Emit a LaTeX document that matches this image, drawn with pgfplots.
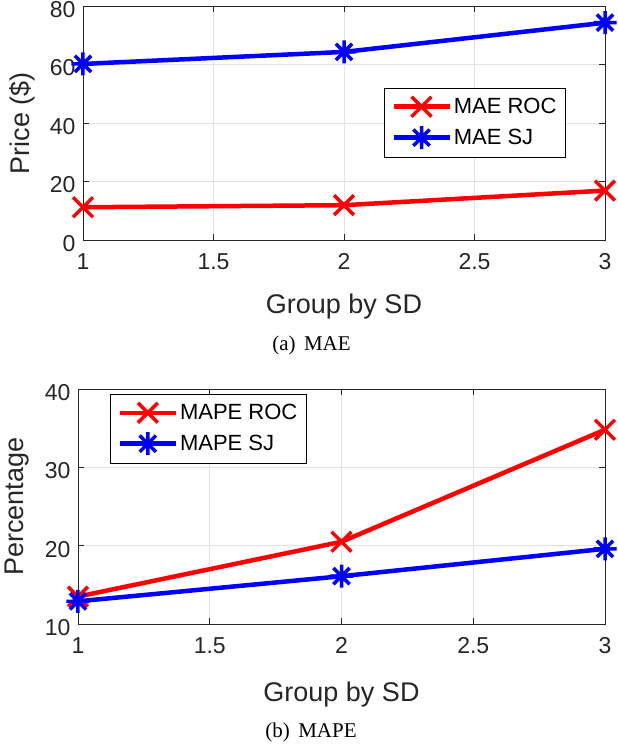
\documentclass[border=0pt]{standalone}
\usepackage{fontspec}
\setmainfont{Liberation Sans}
\newfontfamily\capfont{Liberation Serif}
\usepackage{pgfplots}
\pgfplotsset{compat=1.18}
\definecolor{axgray}{RGB}{38,38,38}
\definecolor{gridgray}{RGB}{226,226,226}
\pgfdeclareplotmark{mstar}{%
  \pgfpathmoveto{\pgfqpoint{-\pgfplotmarksize}{0pt}}%
  \pgfpathlineto{\pgfqpoint{\pgfplotmarksize}{0pt}}%
  \pgfpathmoveto{\pgfqpoint{0pt}{-\pgfplotmarksize}}%
  \pgfpathlineto{\pgfqpoint{0pt}{\pgfplotmarksize}}%
  \pgfpathmoveto{\pgfqpoint{-.70710678\pgfplotmarksize}{-.70710678\pgfplotmarksize}}%
  \pgfpathlineto{\pgfqpoint{.70710678\pgfplotmarksize}{.70710678\pgfplotmarksize}}%
  \pgfpathmoveto{\pgfqpoint{-.70710678\pgfplotmarksize}{.70710678\pgfplotmarksize}}%
  \pgfpathlineto{\pgfqpoint{.70710678\pgfplotmarksize}{-.70710678\pgfplotmarksize}}%
  \pgfusepathqstroke}
\pgfplotsset{
  mystyle/.style={
    scale only axis,
    xmin=1, xmax=3, xtick={1,1.5,2,2.5,3},
    clip=false,
    grid=major,
    major grid style={gridgray, line width=0.8pt},
    axis line style={axgray, line width=0.9pt},
    tick align=inside, major tick length=6pt,
    tick style={axgray, line width=0.9pt},
    /pgf/number format/assume math mode=true,
    ticklabel style={font=\fontsize{23}{27}\selectfont, text=axgray},
    xticklabel style={yshift=-10pt},
    yticklabel style={xshift=-4pt, yshift=-3.5pt},
    every axis y label/.style={at={(axis description cs:0,0.5)}, xshift=-61pt, rotate=90, anchor=center, font=\fontsize{27}{32}\selectfont, text=axgray},
    legend style={font=\fontsize{22}{26}\selectfont, draw=black, line width=0.8pt, fill=white, cells={anchor=west}, row sep=9pt, inner xsep=7pt, inner ysep=8pt},
    legend image code/.code={\draw[mark repeat=2, mark phase=2, #1] plot coordinates {(0pt,0pt) (28pt,0pt) (56pt,0pt)};},
    rocstyle/.style={red, line width=4.5pt, mark=x, mark size=14pt, mark options={line width=3.5pt, solid}},
    sjstyle/.style={blue, line width=4.5pt, mark=mstar, mark size=11.5pt, mark options={line width=3.5pt, solid}},
  }
}
\begin{document}
\begin{tikzpicture}
\begin{axis}[mystyle,
  width=522pt, height=234pt,
  at={(0pt,0pt)}, anchor=south west,
  ymin=0, ymax=80, ytick={0,20,40,60,80},
  every axis x label/.style={at={(axis description cs:0.5,0)}, yshift=-73pt, anchor=base, font=\fontsize{27}{32}\selectfont, text=axgray},
  xlabel={Group by SD}, ylabel={Price (\$)},
  legend style={at={(rel axis cs:0.925,0.65)}, anchor=north east},
]
\addplot[rocstyle] coordinates {(1,11.2) (2,11.9) (3,16.9)};
\addlegendentry{MAE ROC}
\addplot[sjstyle] coordinates {(1,60.2) (2,64.3) (3,74.3)};
\addlegendentry{MAE SJ}
\end{axis}
\begin{axis}[mystyle,
  width=527pt, height=235pt,
  at={(-5pt,-384pt)}, anchor=south west,
  ymin=10, ymax=40, ytick={10,20,30,40},
  every axis x label/.style={at={(axis description cs:0.5,0)}, yshift=-77pt, anchor=base, font=\fontsize{27}{32}\selectfont, text=axgray},
  xlabel={Group by SD}, ylabel={Percentage},
  legend style={at={(rel axis cs:0.061,0.979)}, anchor=north west},
]
\addplot[rocstyle] coordinates {(1,13.5) (2,20.5) (3,34.8)};
\addlegendentry{MAPE ROC}
\addplot[sjstyle] coordinates {(1,12.9) (2,16.1) (3,19.6)};
\addlegendentry{MAPE SJ}
\end{axis}
\node[font=\capfont\fontsize{21}{25}\selectfont, anchor=base] at (228.5pt,-110pt) {(a)\hspace{0.4em}MAE};
\node[font=\capfont\fontsize{21}{25}\selectfont, anchor=base] at (228pt,-497pt) {(b)\hspace{0.4em}MAPE};
\pgfresetboundingbox
\path (-83pt,-504pt) rectangle (535pt,240pt);
\end{tikzpicture}
\end{document}
